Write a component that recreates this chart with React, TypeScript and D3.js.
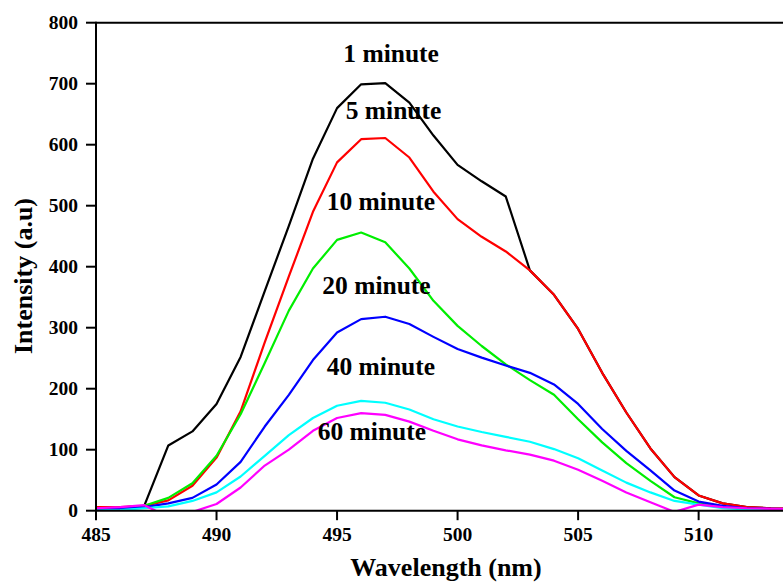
import React from "react";
import * as d3 from "d3";

const wavelengths = [485, 486, 487, 488, 489, 490, 491, 492, 493, 494, 495, 496, 497, 498, 499, 500, 501, 502, 503, 504, 505, 506, 507, 508, 509, 510, 511, 512, 513, 514];

const min1 = [5, 5, 8, 107, 130, 175, 252, 360, 467, 577, 660, 699, 701, 669, 615, 567, 540, 515, 394, 354, 298, 226, 161, 102, 55, 25, 12, 6, 4, 3];
const min5 = [6, 6, 8, 17, 41, 87, 163, 276, 384, 490, 571, 609, 611, 579, 523, 478, 449, 425, 394, 354, 298, 226, 161, 102, 55, 25, 12, 6, 4, 3];
const min10 = [2, 4, 8, 21, 45, 90, 158, 242, 328, 397, 444, 456, 440, 397, 344, 303, 270, 240, 214, 190, 150, 112, 78, 49, 22, 12, 6, 3, 2, 2];
const min20 = [2, 3, 6, 12, 21, 43, 80, 138, 190, 247, 292, 314, 318, 306, 285, 265, 251, 238, 226, 207, 175, 134, 98, 66, 33, 15, 8, 4, 3, 2];
const min40 = [0, 1, 4, 7, 16, 30, 56, 90, 124, 152, 172, 180, 177, 166, 150, 138, 129, 121, 113, 101, 86, 66, 46, 30, 16, 10, 4, 2, 1, 1];
const min60 = [4, 6, 9, -10, -2, 11, 38, 74, 100, 131, 152, 160, 157, 146, 131, 117, 107, 99, 92, 82, 67, 49, 30, 14, -2, 10, 6, 4, 3, 3];

const seriesNames = ["1 minute", "5 minute", "10 minute", "20 minute", "40 minute", "60 minute"];
const seriesColors = ["#000000", "#ff0000", "#00ee00", "#0000ff", "#00ffff", "#ff00ff"];
const seriesValues = [min1, min5, min10, min20, min40, min60];

const xTicks = [485, 490, 495, 500, 505, 510];
const yTicks = [0, 100, 200, 300, 400, 500, 600, 700, 800];

const FONT = "'Liberation Serif', 'Times New Roman', serif";

export default function App() {
  const W = 783;
  const H = 584;
  const left = 96;
  const right = 783;
  const top = 22.7;
  const bottom = 510.7;

  const x = d3.scaleLinear().domain([485, 513.5]).range([left, right]);
  const y = d3.scaleLinear().domain([0, 800]).range([bottom, top]);

  const line = d3
    .line<number>()
    .x((_, i) => x(wavelengths[i]))
    .y((v) => y(v));

  const labelPos = [
    { lx: 343.3, ly: 61.7 },
    { lx: 345.7, ly: 119 },
    { lx: 326.7, ly: 210 },
    { lx: 322.3, ly: 294 },
    { lx: 326.7, ly: 375 },
    { lx: 317.7, ly: 440 },
  ];

  return (
    <svg
      width={W}
      height={H}
      style={{ position: "absolute", left: 0, top: 0, background: "#fff" }}
      fontFamily={FONT}
    >
      <defs>
        <clipPath id="plotclip">
          <rect x={left} y={top} width={right - left} height={bottom - top} />
        </clipPath>
      </defs>

      <g clipPath="url(#plotclip)">
        {seriesValues.map((vals, si) => (
          <path
            key={si}
            d={line(vals) || ""}
            fill="none"
            stroke={seriesColors[si]}
            strokeWidth={2.2}
            strokeLinejoin="round"
          />
        ))}
      </g>

      <line x1={left} x2={right} y1={bottom} y2={bottom} stroke="#000" strokeWidth={2} />
      <line x1={left} x2={right} y1={top} y2={top} stroke="#000" strokeWidth={2} />
      <line x1={left} x2={left} y1={top - 1} y2={bottom + 1} stroke="#000" strokeWidth={2} />

      {yTicks.map((t) => (
        <g key={"y" + t}>
          <line x1={left - 10} x2={left} y1={y(t)} y2={y(t)} stroke="#000" strokeWidth={2} />
          <text
            x={left - 18}
            y={y(t)}
            textAnchor="end"
            dominantBaseline="central"
            fontSize={19.5}
            fontWeight="bold"
          >
            {t}
          </text>
        </g>
      ))}

      {xTicks.map((t) => (
        <g key={"x" + t}>
          <line x1={x(t)} x2={x(t)} y1={bottom} y2={bottom + 9.5} stroke="#000" strokeWidth={2} />
          <text x={x(t)} y={541} textAnchor="middle" fontSize={19.5} fontWeight="bold">
            {t}
          </text>
        </g>
      ))}

      <text x={446} y={576} textAnchor="middle" fontSize={26} fontWeight="bold">
        Wavelength (nm)
      </text>
      <text
        transform={`translate(32, 276) rotate(-90)`}
        textAnchor="middle"
        fontSize={26}
        fontWeight="bold"
      >
        Intensity (a.u)
      </text>

      {seriesNames.map((n, i) => (
        <text
          key={n}
          x={labelPos[i].lx}
          y={labelPos[i].ly}
          fontSize={25.5}
          fontWeight="bold"
          fill="#000"
        >
          {n}
        </text>
      ))}
    </svg>
  );
}
